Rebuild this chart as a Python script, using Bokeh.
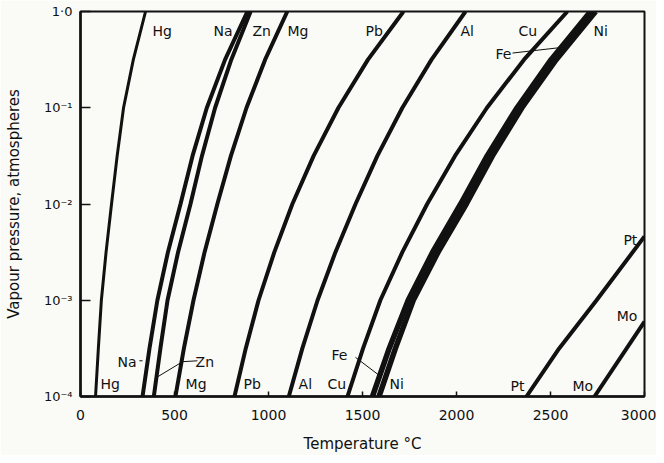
from bokeh.plotting import figure
from bokeh.models import FixedTicker, ColumnDataSource
from bokeh.embed import file_html
from bokeh.resources import INLINE
from bokeh.core.properties import value

# ---- data (temperature in deg C at each pressure level) ----
pressure_levels = [1e-4, 3.16e-4, 1e-3, 3.16e-3, 1e-2, 3.16e-2, 1e-1, 3.16e-1, 1.0]
hg_temps = [80, 95, 111, 136, 165, 195, 229, 281, 346]
na_temps = [330, 367, 409, 465, 532, 596, 672, 769, 888]
zn_temps = [390, 425, 463, 519, 585, 646, 716, 802, 905]
mg_temps = [505, 550, 601, 660, 728, 800, 883, 982, 1100]
pb_temps = [819, 879, 947, 1031, 1127, 1240, 1372, 1529, 1718]
al_temps = [1108, 1180, 1261, 1356, 1463, 1579, 1712, 1867, 2048]
cu_temps = [1420, 1503, 1595, 1712, 1844, 1992, 2162, 2359, 2590]
fe_temps = [1553, 1642, 1743, 1873, 2022, 2163, 2322, 2503, 2713]
ni_temps = [1588, 1675, 1770, 1902, 2052, 2191, 2348, 2530, 2740]
pt_temps = [2372, 2546, 2745, 3000]
pt_pressures = [1e-4, 3.16e-4, 1e-3, 4.6e-3]
mo_temps = [2734, 3000]
mo_pressures = [1e-4, 6.0e-4]

x_ticks = [0, 500, 1000, 1500, 2000, 2500, 3000]
y_ticks = [1e-4, 1e-3, 1e-2, 1e-1, 1.0]
y_tick_labels = ["10\u207b\u2074", "10\u207b\u00b3", "10\u207b\u00b2", "10\u207b\u00b9", "1\u00b70"]

series = [
    ("Hg", hg_temps, pressure_levels, 3),
    ("Na", na_temps, pressure_levels, 4),
    ("Zn", zn_temps, pressure_levels, 4),
    ("Mg", mg_temps, pressure_levels, 4),
    ("Pb", pb_temps, pressure_levels, 4),
    ("Al", al_temps, pressure_levels, 4),
    ("Cu", cu_temps, pressure_levels, 4),
    ("Fe", fe_temps, pressure_levels, 5.5),
    ("Ni", ni_temps, pressure_levels, 5.5),
    ("Pt", pt_temps, pt_pressures, 4),
    ("Mo", mo_temps, mo_pressures, 4),
]

# label annotations (x in deg C, y in atm): name, x, y, align
labels = [
    ("Hg", 383, 0.62, "left"), ("Na", 707, 0.62, "left"), ("Zn", 915, 0.62, "left"),
    ("Mg", 1101, 0.62, "left"), ("Pb", 1516, 0.62, "left"), ("Al", 2021, 0.62, "left"),
    ("Cu", 2330, 0.62, "left"), ("Ni", 2729, 0.62, "left"), ("Fe", 2207, 0.366, "left"),
    ("Hg", 106, 1.36e-4, "left"), ("Mg", 559, 1.36e-4, "left"), ("Pb", 867, 1.36e-4, "left"),
    ("Al", 1160, 1.36e-4, "left"), ("Cu", 1314, 1.36e-4, "left"), ("Ni", 1644, 1.36e-4, "left"),
    ("Pt", 2287, 1.30e-4, "left"), ("Mo", 2617, 1.30e-4, "left"),
    ("Na", 197, 2.31e-4, "left"), ("Zn", 612, 2.31e-4, "left"), ("Fe", 1335, 2.67e-4, "left"),
    ("Pt", 2962, 4.18e-3, "right"), ("Mo", 2962, 6.78e-4, "right"),
]

# leader lines (x list, y list)
leaders = [
    ([2298, 2590], [0.37, 0.43]),
    ([313, 330], [2.35e-4, 2.35e-4]),
    ([622, 543, 410], [2.35e-4, 2.30e-4, 1.6e-4]),
    ([1463, 1585], [2.55e-4, 1.68e-4]),
]

FONT = "DejaVu Sans"
INK = "#111111"
BG = "#fafaf6"

p = figure(width=656, height=455, x_range=(0, 3000), y_range=(1e-4, 1.0),
           y_axis_type="log", output_backend="svg", toolbar_location=None,
           background_fill_color=BG, border_fill_color=BG,
           min_border_left=80, min_border_right=12, min_border_top=11, min_border_bottom=57)
p.grid.visible = False
p.outline_line_color = INK
p.outline_line_width = 2

for name, xs, ys, w in series:
    p.line(xs, ys, line_color=INK, line_width=w)

for xs, ys in leaders:
    p.line(xs, ys, line_color=INK, line_width=1)

for align in ("left", "right"):
    sub = [l for l in labels if l[3] == align]
    src = ColumnDataSource(dict(t=[l[0] for l in sub], x=[l[1] for l in sub], y=[l[2] for l in sub]))
    p.text(x="x", y="y", text="t", source=src, text_align=align, text_baseline="middle",
           text_font=value(FONT), text_font_size="14px", text_color=INK)

xa = p.xaxis[0]
xa.ticker = FixedTicker(ticks=x_ticks)
xa.major_label_overrides = {t: str(t) for t in x_ticks}
xa.axis_label = "Temperature \u00b0C"
ya = p.yaxis[0]
ya.ticker = FixedTicker(ticks=y_ticks, minor_ticks=[])
ya.major_label_overrides = {t: l for t, l in zip(y_ticks, y_tick_labels)}
ya.axis_label = "Vapour pressure, atmospheres"

for ax in (xa, ya):
    ax.axis_line_color = INK
    ax.axis_line_width = 2.5
    ax.major_tick_line_color = INK
    ax.major_tick_line_width = 1.5
    ax.minor_tick_line_color = None
    ax.major_tick_out = 0
    ax.major_label_text_font = FONT
    ax.major_label_text_color = INK
    ax.axis_label_text_font = FONT
    ax.axis_label_text_font_size = "15px"
    ax.axis_label_text_font_style = "normal"
    ax.axis_label_text_color = INK
xa.major_label_text_font_size = "14px"
ya.major_label_text_font_size = "13px"
xa.major_tick_in = 5
ya.major_tick_in = 10
xa.major_label_standoff = 13
xa.axis_label_standoff = 12
ya.major_label_standoff = 8
ya.axis_label_standoff = 18

open("out.html", "w").write(file_html(p, INLINE))
